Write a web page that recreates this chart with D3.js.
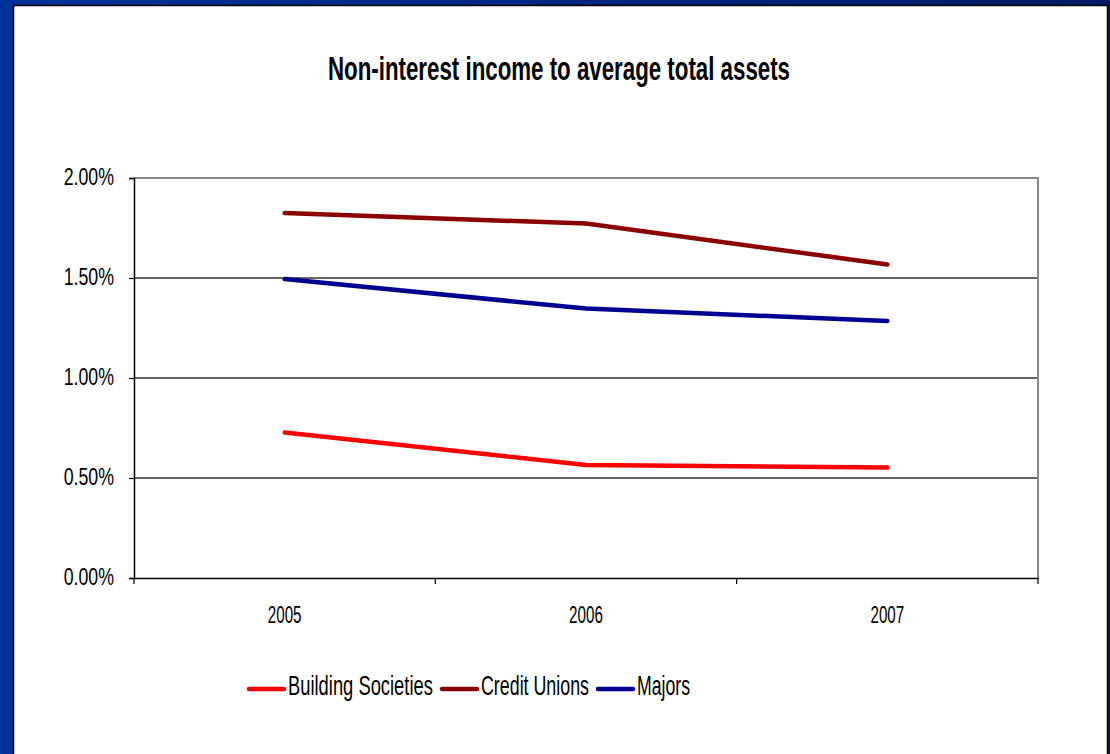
<!DOCTYPE html>
<html>
<head>
<meta charset="utf-8">
<script src="https://cdn.jsdelivr.net/npm/d3@7"></script>
<style>
  html, body { margin: 0; padding: 0; background: #003399; }
  svg { display: block; }
</style>
</head>
<body>
<svg id="chart" width="1110" height="754"></svg>
<script>
const years = ['2005', '2006', '2007'];
const buildingSocieties = [0.728, 0.565, 0.553];
const creditUnions = [1.825, 1.772, 1.568];
const majors = [1.495, 1.347, 1.285];
const yTicks = [0, 0.5, 1.0, 1.5, 2.0];

const series = [
  {name: 'Building Societies', values: buildingSocieties, color: '#ff0000'},
  {name: 'Credit Unions', values: creditUnions, color: '#8b0000'},
  {name: 'Majors', values: majors, color: '#000090'}
];

const svg = d3.select('#chart');
const font = '"Liberation Sans", Arial, sans-serif';

// squeeze text horizontally, like Arial Narrow
function narrow(sel, k) {
  sel.each(function() {
    const len = this.getComputedTextLength();
    d3.select(this).attr('textLength', len * k).attr('lengthAdjust', 'spacingAndGlyphs');
  });
}

// blue frame + white slide
const grad = svg.append('defs').append('linearGradient')
  .attr('id', 'bg').attr('x1', 0).attr('x2', 1).attr('y1', 0).attr('y2', 0);
grad.append('stop').attr('offset', '0%').attr('stop-color', '#003399');
grad.append('stop').attr('offset', '100%').attr('stop-color', '#001a66');
svg.append('rect').attr('width', 1110).attr('height', 754).attr('fill', 'url(#bg)');
svg.append('rect').attr('x', 13.5).attr('y', 5.5).attr('width', 1094).attr('height', 760)
  .attr('fill', '#fff').attr('stroke', '#000').attr('stroke-width', 1.5);

const m = {left: 134, right: 1038, top: 178, bottom: 578};

const x = d3.scaleBand().domain(years).range([m.left, m.right]).padding(0);
const y = d3.scaleLinear().domain([0, 2]).range([m.bottom, m.top]);

// title
svg.append('text')
  .attr('x', 559).attr('y', 80)
  .attr('text-anchor', 'middle')
  .attr('font-family', font).attr('font-weight', 'bold').attr('font-size', 33)
  .attr('textLength', 462).attr('lengthAdjust', 'spacingAndGlyphs')
  .text('Non-interest income to average total assets');

// gridlines
svg.append('g').selectAll('line')
  .data(yTicks.filter(d => d > 0 && d < 2))
  .join('line')
    .attr('x1', m.left).attr('x2', m.right)
    .attr('y1', d => y(d)).attr('y2', d => y(d))
    .attr('stroke', '#333').attr('stroke-width', 1.3);

// plot border top/right
svg.append('path')
  .attr('d', `M${m.left},${m.top}H${m.right}V${m.bottom}`)
  .attr('fill', 'none').attr('stroke', '#888').attr('stroke-width', 2);

// y axis
const yAxis = svg.append('g')
  .attr('transform', `translate(${m.left},0)`)
  .call(d3.axisLeft(y).tickValues(yTicks).tickSize(5).tickPadding(15)
    .tickFormat(d => d3.format('.2f')(d) + '%'));
yAxis.select('.domain').attr('stroke', '#000').attr('stroke-width', 1.5);
yAxis.selectAll('.tick line').attr('stroke', '#000').attr('stroke-width', 1.2);
yAxis.selectAll('.tick text')
  .attr('font-family', font).attr('font-size', 24).attr('fill', '#000')
  .attr('dy', 6)
  .call(narrow, 0.74);

// x axis
const xAxis = svg.append('g')
  .attr('transform', `translate(0,${m.bottom})`)
  .call(d3.axisBottom(x).tickSize(0).tickPadding(0));
xAxis.select('.domain').attr('stroke', '#000').attr('stroke-width', 1.5);
xAxis.selectAll('.tick text')
  .attr('font-family', font).attr('font-size', 23).attr('fill', '#000')
  .attr('y', 45).attr('dy', 0)
  .call(narrow, 0.66);
// category boundary ticks
svg.append('g').selectAll('line')
  .data(years.map(d => x(d)).concat([x(years[years.length - 1]) + x.bandwidth()]))
  .join('line')
    .attr('x1', d => d).attr('x2', d => d)
    .attr('y1', m.bottom).attr('y2', m.bottom + 6)
    .attr('stroke', '#000').attr('stroke-width', 1.2);

// lines
const line = d3.line()
  .x((d, i) => x(years[i]) + x.bandwidth() / 2)
  .y(d => y(d));

svg.append('g').selectAll('path')
  .data(series)
  .join('path')
    .attr('d', d => line(d.values))
    .attr('fill', 'none')
    .attr('stroke', d => d.color)
    .attr('stroke-width', 4.5)
    .attr('stroke-linejoin', 'round')
    .attr('stroke-linecap', 'round');

// legend
const legendX = [249, 442, 598];
const legendW = [145, 108, 53];
const legend = svg.append('g').selectAll('g')
  .data(series)
  .join('g')
    .attr('transform', (d, i) => `translate(${legendX[i]},689)`);
legend.append('line')
  .attr('x1', 0).attr('x2', 35)
  .attr('stroke', d => d.color).attr('stroke-width', 4.5).attr('stroke-linecap', 'round');
legend.append('text')
  .attr('y', 6)
  .attr('font-family', font).attr('font-size', 28).attr('fill', '#000')
  .text(d => d.name)
  .each(function(d, i) {
    const k = legendW[i] / this.getComputedTextLength();
    d3.select(this).attr('transform', `translate(39,0) scale(${k},1)`);
  });
</script>
</body>
</html>
